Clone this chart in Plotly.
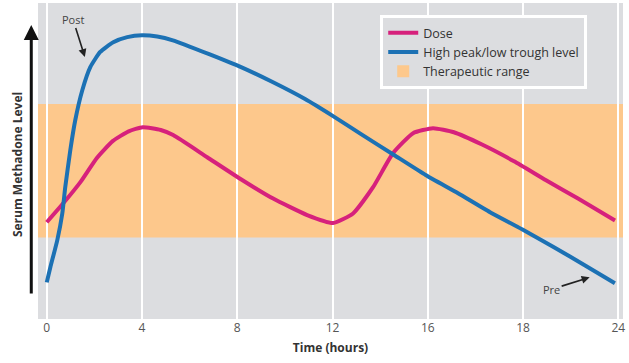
import plotly.graph_objects as go

# ---- data (x in tick slots: 0..6 -> labels below; y in relative level units 0..100)
tick_pos = [0, 1, 2, 3, 4, 5, 6]
tick_labels = ["0", "4", "8", "12", "16", "18", "24"]

blue_x = [0.0, 0.037, 0.11, 0.163, 0.194, 0.247, 0.299, 0.373, 0.457, 0.561, 0.698, 0.845,
          1.0, 1.16, 1.324, 1.705, 2.04, 2.376, 2.712, 3.006, 3.3, 3.646, 3.982, 4.318, 4.654,
          4.99, 5.325, 5.661, 5.965]
blue_y = [11.6, 16.3, 24.9, 33.4, 41.7, 53.4, 62.9, 72.4, 79.7, 84.5, 87.6, 89.2,
          89.8, 89.4, 88.2, 83.8, 79.7, 74.9, 69.6, 64.2, 58.5, 51.9, 45.5, 39.8, 33.8,
          28.4, 22.7, 16.8, 11.3]

pink_x = [0.0, 0.184, 0.355, 0.524, 0.692, 0.86, 1.008, 1.197, 1.327, 1.684, 2.03, 2.377,
          2.734, 3.007, 3.216, 3.426, 3.636, 3.846, 4.055, 4.274, 4.57, 4.906,
          5.242, 5.578, 5.966]
pink_y = [30.6, 37.0, 43.4, 50.9, 56.3, 59.4, 60.7, 59.8, 58.2, 51.2, 44.4, 38.1,
          32.9, 30.4, 33.4, 41.7, 52.5, 58.8, 60.4, 59.1, 55.2, 49.9,
          43.9, 38.1, 31.2]

band_low = 25.8
band_high = 68.0

post_point = (0.40, 82.9)
pre_point = (5.70, 13.2)

PINK = "#d6217c"
BLUE = "#1c71b4"
ORANGE = "#fdc88c"
BG = "#dcdde0"
FONT = "Open Sans"

fig = go.Figure()

fig.add_trace(go.Scatter(x=pink_x, y=pink_y, mode="lines", name="Dose",
                         line=dict(color=PINK, width=4, shape="spline", smoothing=0.5)))
fig.add_trace(go.Scatter(x=blue_x, y=blue_y, mode="lines", name="High peak/low trough level",
                         line=dict(color=BLUE, width=4, shape="spline", smoothing=0.5)))

fig.add_shape(type="rect", xref="x domain", yref="y", x0=0, x1=1, y0=band_low, y1=band_high,
              fillcolor=ORANGE, line=dict(width=0), layer="below",
              showlegend=True, name="Therapeutic range")

# Post / Pre annotations
fig.add_annotation(x=post_point[0], y=post_point[1], xref="x", yref="y", text="Post",
                   showarrow=True, ax=-12, ay=-38, arrowhead=2, arrowsize=1, arrowwidth=1.6,
                   arrowcolor="#222", standoff=0, font=dict(family=FONT, size=11, color="#444"))
fig.add_annotation(x=pre_point[0], y=pre_point[1], xref="x", yref="y", text="Pre",
                   showarrow=True, ax=-38, ay=12, arrowhead=2, arrowsize=1, arrowwidth=1.6,
                   arrowcolor="#222", standoff=0, font=dict(family=FONT, size=11, color="#444"))

# y-axis arrow and title
fig.add_annotation(xref="paper", yref="paper", x=-0.0115, y=0.93, ax=0, ay=270,
                   text="", showarrow=True, arrowhead=2, arrowsize=1, arrowwidth=3,
                   arrowcolor="#111", standoff=0)
fig.add_annotation(xref="paper", yref="paper", x=-0.036, y=0.49, text="<b>Serum Methadone Level</b>",
                   textangle=-90, showarrow=False, xanchor="center", yanchor="middle",
                   font=dict(family=FONT, size=12, color="#333"))

fig.update_layout(
    width=629, height=363,
    margin=dict(l=38, r=6, t=3, b=44),
    paper_bgcolor="white", plot_bgcolor=BG,
    font=dict(family=FONT, size=12, color="#444"),
    showlegend=True,
    legend=dict(x=0.585, y=0.962, xanchor="left", yanchor="top",
                bgcolor=BG, bordercolor="white", borderwidth=3,
                font=dict(family=FONT, size=12.5, color="#333"),
                tracegroupgap=0),
    xaxis=dict(range=[-0.092, 6.05], tickmode="array", tickvals=tick_pos, ticktext=tick_labels,
               showgrid=True, gridcolor="white", gridwidth=1.5, zeroline=False, showline=False,
               ticks="", tickfont=dict(family=FONT, size=12, color="#555"),
               title=dict(text="<b>Time (hours)</b>", font=dict(family=FONT, size=12, color="#333"),
                          standoff=8)),
    yaxis=dict(range=[0, 100], showgrid=False, zeroline=False, showticklabels=False,
               ticks="", showline=False),
)

fig.write_html("out.html", post_script="document.body.style.margin='0';",
               config={"displayModeBar": False})
